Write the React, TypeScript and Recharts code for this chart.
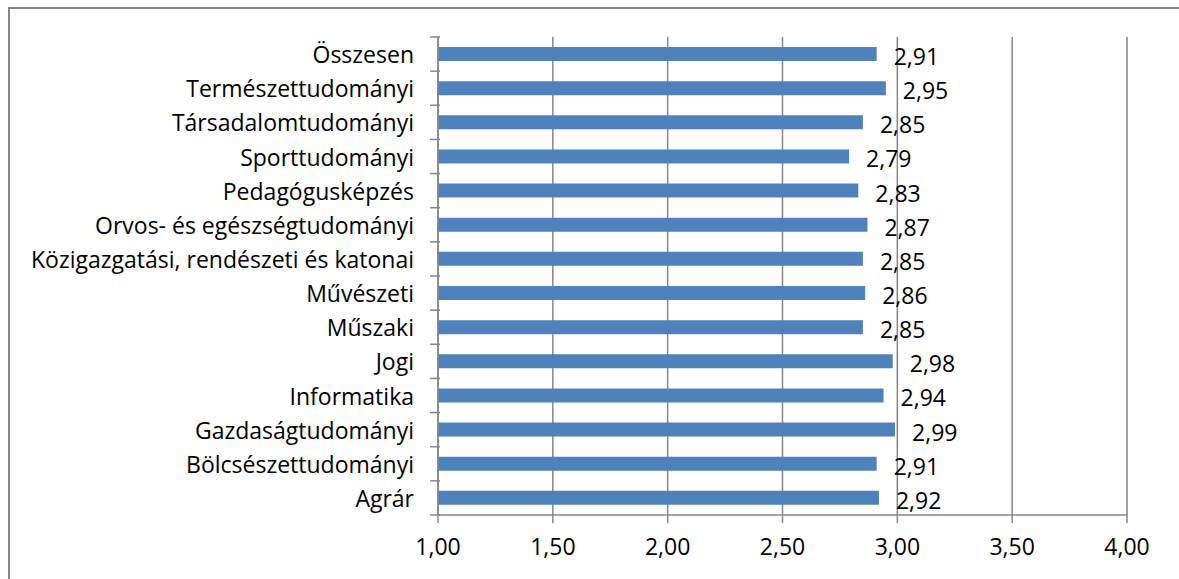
import { BarChart, Bar, XAxis, YAxis, CartesianGrid, LabelList } from "recharts";

// categories top to bottom, as in the picture
const categories = [
  "Összesen",
  "Természettudományi",
  "Társadalomtudományi",
  "Sporttudományi",
  "Pedagógusképzés",
  "Orvos- és egészségtudományi",
  "Közigazgatási, rendészeti és katonai",
  "Művészeti",
  "Műszaki",
  "Jogi",
  "Informatika",
  "Gazdaságtudományi",
  "Bölcsészettudományi",
  "Agrár",
];
const values = [2.91, 2.95, 2.85, 2.79, 2.83, 2.87, 2.85, 2.86, 2.85, 2.98, 2.94, 2.99, 2.91, 2.92];
const xTicks = [1, 1.5, 2, 2.5, 3, 3.5, 4];

const data = categories.map((name, i) => ({ name, value: values[i] }));

const FONT = "'Open Sans', sans-serif";
const FS = 23;
const AXIS = "#868686";
const fmt = (v: number) => v.toFixed(2).replace(".", ",");

const W = 1169;
const H = 570;
const X_H = 40;
const M = { top: 28, right: 52, bottom: 64 - X_H, left: 0 };
const BAND = (H - M.top - M.bottom - X_H) / categories.length;

// category label plus a tick mark between categories (Excel style)
function CatTick(props: any) {
  const { x, y, payload, index } = props;
  const ax = x + 10; // axis line x
  return (
    <g>
      <line x1={ax - 10} x2={ax} y1={y - BAND / 2} y2={y - BAND / 2} stroke={AXIS} strokeWidth={1.5} />
      {index === categories.length - 1 && (
        <line x1={ax - 10} x2={ax} y1={y + BAND / 2} y2={y + BAND / 2} stroke={AXIS} strokeWidth={1.5} />
      )}
      <text x={ax - 26} y={y} textAnchor="end" dominantBaseline="central" fontSize={FS} fill="#000" fontFamily={FONT}>
        {payload.value}
      </text>
    </g>
  );
}

function ValueLabel(props: any) {
  const { x, y, width, height, value } = props;
  return (
    <text x={x + width + 17} y={y + height / 2 + 2} dominantBaseline="central" fontSize={FS} fill="#000" fontFamily={FONT}>
      {fmt(value)}
    </text>
  );
}

export default function App() {
  return (
    <div
      style={{
        position: "absolute",
        left: 8,
        top: 7,
        width: 1171,
        height: 572,
        boxSizing: "border-box",
        borderTop: `2px solid ${AXIS}`,
        borderLeft: `2px solid ${AXIS}`,
        background: "#fff",
        overflow: "hidden",
      }}
    >
      <BarChart width={W} height={H} data={data} layout="vertical" margin={M} barSize={14}>
        <CartesianGrid horizontal={false} stroke={AXIS} strokeWidth={1.5} />
        <XAxis
          type="number"
          domain={[1, 4]}
          ticks={xTicks}
          tickFormatter={fmt}
          interval={0}
          height={X_H}
          stroke={AXIS}
          strokeWidth={1.5}
          tickSize={8}
          tickMargin={16}
          tick={{ fill: "#000", fontSize: FS, fontFamily: FONT }}
        />
        <YAxis
          type="category"
          dataKey="name"
          width={428}
          interval={0}
          stroke={AXIS}
          strokeWidth={1.5}
          tickLine={false}
          tick={<CatTick />}
        />
        <Bar dataKey="value" fill="#4F81BD" isAnimationActive={false}>
          <LabelList dataKey="value" content={<ValueLabel />} />
        </Bar>
      </BarChart>
    </div>
  );
}
